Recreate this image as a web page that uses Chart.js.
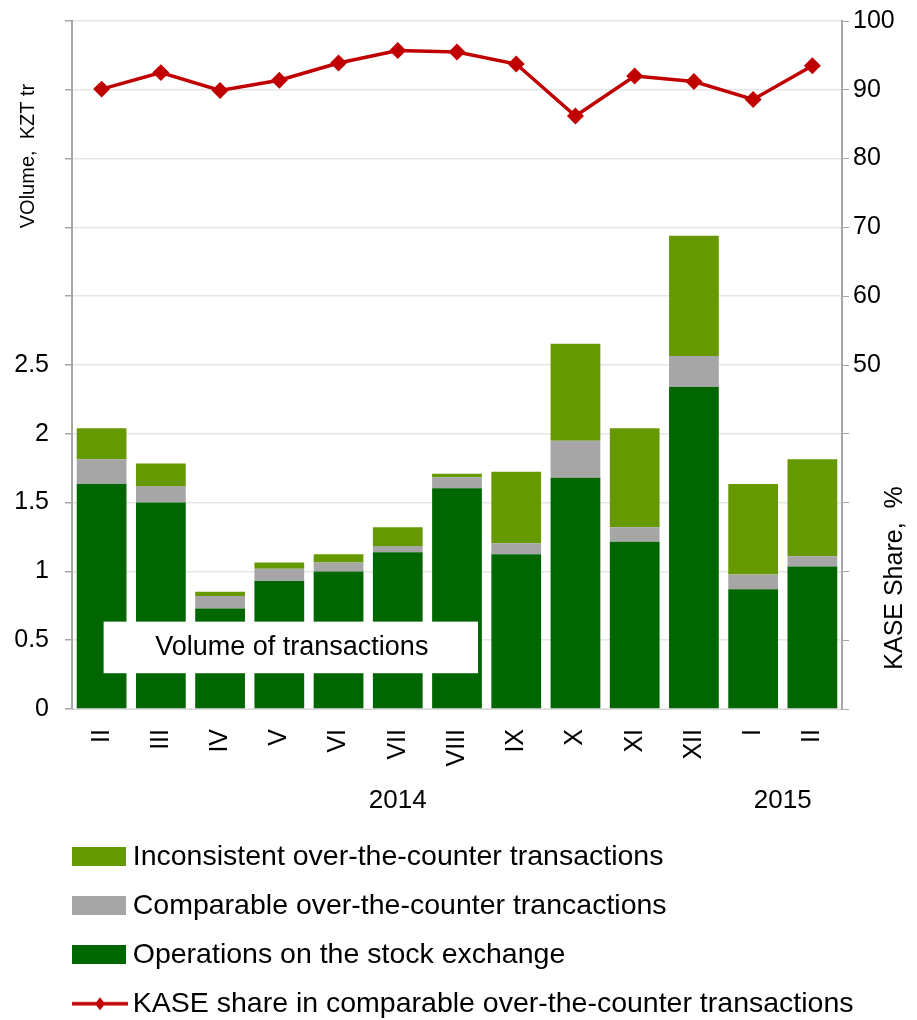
<!DOCTYPE html>
<html>
<head>
<meta charset="utf-8">
<script src="https://cdn.jsdelivr.net/npm/chart.js@4.4.1/dist/chart.umd.min.js"></script>
<style>
    html, body { margin: 0; padding: 0; background: #fff; overflow: hidden; }
    #wrap { position: relative; width: 917px; height: 1028px; }
</style>
</head>
<body>
<div id="wrap"><canvas id="kaseChart"></canvas></div>
<script>
// Month labels (Feb 2014 - Feb 2015)
const months = ['II', 'III', 'IV', 'V', 'VI', 'VII', 'VIII', 'IX', 'X', 'XI', 'XII', 'I', 'II'];

// Volumes, KZT tr
const exchangeOps = [1.635, 1.50, 0.73, 0.93, 1.00, 1.14, 1.605, 1.125, 1.68, 1.215, 2.34, 0.87, 1.035];
const comparableOtc = [0.18, 0.12, 0.092, 0.09, 0.065, 0.045, 0.08, 0.08, 0.27, 0.105, 0.225, 0.108, 0.075];
const inconsistentOtc = [0.225, 0.165, 0.03, 0.045, 0.06, 0.135, 0.025, 0.52, 0.705, 0.72, 0.875, 0.657, 0.705];

// KASE share, %
const kaseShare = [90.1, 92.5, 89.9, 91.4, 93.9, 95.7, 95.5, 93.75, 86.2, 92.0, 91.2, 88.6, 93.5];

// Year groups under the month labels
const yearLabels = ['2014', '2015'];
const yearStart = [0, 11];
const yearEnd = [10, 12];

const FONT = "'Liberation Sans', Arial, sans-serif";

const colDark = '#006600';
const colGrey = '#A6A6A6';
const colLight = '#669900';
const colRed = '#C00000';

// legend symbols: transparent margin on the left so the swatch lines up with the plot edge
function boxImage(color) {
    const c = document.createElement('canvas');
    c.width = 113; c.height = 19;
    const g = c.getContext('2d');
    g.fillStyle = color;
    g.fillRect(59, 0, 54, c.height);
    return c;
}

function lineImage(color) {
    const c = document.createElement('canvas');
    c.width = 117; c.height = 16;
    const g = c.getContext('2d');
    g.strokeStyle = color;
    g.lineWidth = 3.5;
    g.beginPath();
    g.moveTo(61, 8); g.lineTo(117, 8);
    g.stroke();
    g.fillStyle = color;
    g.beginPath();
    g.moveTo(89, 1.5); g.lineTo(94, 8); g.lineTo(89, 14.5); g.lineTo(84, 8);
    g.closePath();
    g.fill();
    return c;
}

// Extra texts: axis titles, year labels, inline "Volume of transactions" box
const extrasPlugin = {
    id: 'extras',
    afterDatasetsDraw(chart) {
        const { ctx, scales: { x, y } } = chart;
        const left = x.getPixelForValue(0) + 2;
        const right = x.getPixelForValue(6) + 21;
        const top = y.getPixelForValue(0.635);
        const bottom = y.getPixelForValue(0.26);
        ctx.save();
        ctx.fillStyle = '#fff';
        ctx.fillRect(left, top, right - left, bottom - top);
        ctx.fillStyle = '#000';
        ctx.font = '27px ' + FONT;
        ctx.textAlign = 'center';
        ctx.textBaseline = 'middle';
        ctx.fillText('Volume of transactions', (left + right) / 2 + 1, (top + bottom) / 2);
        ctx.restore();
    },
    afterDraw(chart) {
        const { ctx, scales: { x } } = chart;
        ctx.save();
        ctx.fillStyle = '#000';
        ctx.textAlign = 'center';
        ctx.textBaseline = 'middle';

        // year labels
        ctx.font = '26px ' + FONT;
        yearLabels.forEach((lbl, i) => {
            const cx = (x.getPixelForValue(yearStart[i]) + x.getPixelForValue(yearEnd[i])) / 2;
            ctx.fillText(lbl, cx, 801);
        });

        // axis titles
        ctx.save();
        ctx.font = '20px ' + FONT;
        ctx.translate(28, 156);
        ctx.rotate(-Math.PI / 2);
        ctx.fillText('VOlume,  KZT tr', 0, 0);
        ctx.restore();

        ctx.save();
        ctx.font = '25px ' + FONT;
        ctx.translate(895, 578);
        ctx.rotate(-Math.PI / 2);
        ctx.fillText('KASE Share,  %', 0, 0);
        ctx.restore();

        ctx.restore();
    }
};

function noVerticalPadding(scale) {
    scale.paddingTop = 0;
    scale.paddingBottom = 0;
}

const ctx = document.getElementById('kaseChart');

new Chart(ctx, {
    type: 'bar',
    data: {
        labels: months,
        datasets: [
            {
                label: 'Operations on the stock exchange',
                data: exchangeOps,
                backgroundColor: colDark,
                yAxisID: 'y',
                order: 2
            },
            {
                label: 'Comparable over-the-counter trancactions',
                data: comparableOtc,
                backgroundColor: colGrey,
                yAxisID: 'y',
                order: 2
            },
            {
                label: 'Inconsistent over-the-counter transactions',
                data: inconsistentOtc,
                backgroundColor: colLight,
                yAxisID: 'y',
                order: 2
            },
            {
                label: 'KASE share in comparable over-the-counter transactions',
                data: kaseShare,
                type: 'line',
                borderColor: colRed,
                backgroundColor: colRed,
                borderWidth: 3.5,
                pointStyle: 'rectRot',
                pointRadius: 6,
                pointBackgroundColor: colRed,
                pointBorderColor: colRed,
                tension: 0,
                fill: false,
                yAxisID: 'y1',
                order: 1
            }
        ]
    },
    options: {
        responsive: true,
        maintainAspectRatio: false,
        animation: false,
        datasets: {
            bar: { barPercentage: 0.84, categoryPercentage: 1 }
        },
        layout: { padding: { left: 0, top: 21, right: 0, bottom: 0 } },
        plugins: {
            tooltip: { enabled: false },
            legend: {
                position: 'bottom',
                align: 'start',
                labels: {
                    usePointStyle: true,
                    pointStyleWidth: 98,
                    boxHeight: 20,
                    padding: 20.5,
                    color: '#000',
                    font: { family: FONT, size: 28.5 },
                    generateLabels(chart) {
                        const ds = chart.data.datasets;
                        return [
                            { text: ds[2].label, pointStyle: boxImage(ds[2].backgroundColor), datasetIndex: 2 },
                            { text: ds[1].label, pointStyle: boxImage(ds[1].backgroundColor), datasetIndex: 1 },
                            { text: ds[0].label, pointStyle: boxImage(ds[0].backgroundColor), datasetIndex: 0 },
                            { text: ds[3].label, pointStyle: lineImage(ds[3].borderColor), datasetIndex: 3 }
                        ].map(it => Object.assign({ fontColor: '#000', hidden: false, lineWidth: 0 }, it));
                    }
                }
            }
        },
        scales: {
            x: {
                stacked: true,
                grid: { display: false, drawTicks: false },
                border: { display: true, color: '#D9D9D9', width: 1 },
                ticks: {
                    autoSkip: false,
                    minRotation: 90,
                    maxRotation: 90,
                    padding: 20,
                    color: '#000',
                    font: { family: FONT, size: 25 }
                },
                afterFit(scale) { scale.height = 113; }
            },
            y: {
                stacked: true,
                position: 'left',
                min: 0,
                max: 5,
                ticks: {
                    stepSize: 0.5,
                    padding: 16,
                    color: '#000',
                    font: { family: FONT, size: 25 },
                    callback: v => (v <= 2.5 ? String(v) : '')
                },
                grid: {
                    color: '#E6E6E6',
                    lineWidth: 1.5,
                    tickColor: '#A6A6A6',
                    tickLength: 7
                },
                border: { color: '#A6A6A6', width: 2 },
                afterFit(scale) { scale.width = 72; noVerticalPadding(scale); }
            },
            y1: {
                position: 'right',
                min: 0,
                max: 100,
                ticks: {
                    stepSize: 10,
                    padding: 4,
                    color: '#000',
                    font: { family: FONT, size: 25 },
                    callback: v => (v >= 50 ? String(v) : '')
                },
                grid: {
                    drawOnChartArea: false,
                    tickColor: '#A6A6A6',
                    tickLength: 7
                },
                border: { color: '#A6A6A6', width: 2 },
                afterFit(scale) { scale.width = 75; noVerticalPadding(scale); }
            }
        }
    },
    plugins: [extrasPlugin]
});
</script>
</body>
</html>
